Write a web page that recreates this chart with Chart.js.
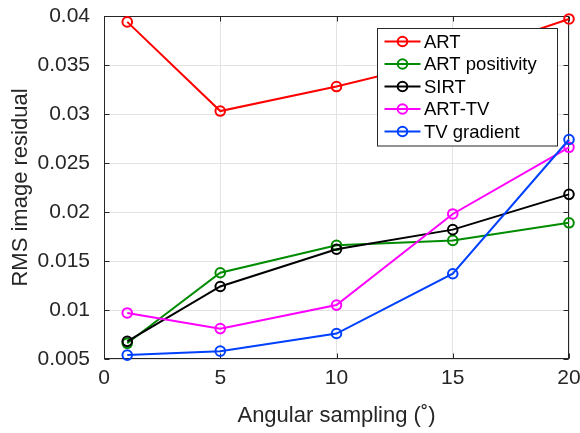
<!DOCTYPE html>
<html>
<head>
<meta charset="utf-8">
<script src="https://cdn.jsdelivr.net/npm/chart.js@4.4.1/dist/chart.umd.min.js"></script>
<style>
  html, body { margin: 0; padding: 0; background: #fff; }
  canvas { display: block; }
</style>
</head>
<body>
<canvas id="c" width="580" height="433"></canvas>
<script>
// Angular sampling step (degrees)
const angles = [1, 5, 10, 15, 20];

// RMS image residual per reconstruction method
const seriesNames = ['ART', 'ART positivity', 'SIRT', 'ART-TV', 'TV gradient'];
const artValues         = [0.0394, 0.0303, 0.0328, 0.0357, 0.0397];
const artPositivity     = [0.0066, 0.0138, 0.0166, 0.0171, 0.0189];
const sirtValues        = [0.0068, 0.0124, 0.0162, 0.0182, 0.0218];
const artTvValues       = [0.0097, 0.0081, 0.0105, 0.0198, 0.0266];
const tvGradientValues  = [0.0054, 0.0058, 0.0076, 0.0137, 0.0274];

// Axis ticks
const xTicks = [0, 5, 10, 15, 20];
const yTicks = [0.005, 0.01, 0.015, 0.02, 0.025, 0.03, 0.035, 0.04];

const seriesColors = ['#ff0000', '#008c00', '#000000', '#ff00ff', '#0040ff'];
const allSeries = [artValues, artPositivity, sirtValues, artTvValues, tvGradientValues];

const AXIS_COLOR = '#262626';
const FONT = '"Liberation Sans", Arial, Helvetica, sans-serif';

const datasets = allSeries.map((vals, i) => ({
  label: seriesNames[i],
  data: angles.map((a, k) => ({ x: a, y: vals[k] })),
  borderColor: seriesColors[i],
  backgroundColor: 'rgba(0,0,0,0)',
  pointBorderColor: seriesColors[i],
  pointBackgroundColor: 'rgba(0,0,0,0)',
  borderWidth: 2,
  pointRadius: 4.8,
  pointBorderWidth: 2,
  tension: 0,
  clip: false,
  order: allSeries.length - i   // later series drawn on top
}));

// Box around the plot with inward tick marks on all four sides
const framePlugin = {
  id: 'frame',
  beforeDatasetsDraw(chart) {
    const { ctx, chartArea: a, scales: { x, y } } = chart;
    const L = Math.round(a.left) + 0.5, R = Math.round(a.right) - 0.5;
    const T = Math.round(a.top) + 0.5, B = Math.round(a.bottom) - 0.5;
    ctx.save();
    ctx.strokeStyle = AXIS_COLOR;
    ctx.lineWidth = 1;
    ctx.strokeRect(L, T, R - L, B - T);
    ctx.beginPath();
    xTicks.forEach(v => {
      const px = Math.round(x.getPixelForValue(v)) + 0.5;
      ctx.moveTo(px, B); ctx.lineTo(px, B - 5);
      ctx.moveTo(px, T); ctx.lineTo(px, T + 5);
    });
    yTicks.forEach(v => {
      const py = Math.round(y.getPixelForValue(v)) + 0.5;
      ctx.moveTo(L, py); ctx.lineTo(L + 5, py);
      ctx.moveTo(R, py); ctx.lineTo(R - 5, py);
    });
    ctx.stroke();
    ctx.restore();
  }
};

// Legend box in the upper right of the plot area
const legendPlugin = {
  id: 'boxLegend',
  afterDraw(chart) {
    const { ctx, chartArea: a } = chart;
    const right = Math.round(a.right) - 11.5;
    const left = right - 180;
    const top = Math.round(a.top) + 12.5;
    const rowH = 22.5;
    const bottom = top + 13 + rowH * (seriesNames.length - 1) + 14.5;
    ctx.save();
    ctx.fillStyle = '#ffffff';
    ctx.fillRect(left, top, right - left, bottom - top);
    ctx.strokeStyle = AXIS_COLOR;
    ctx.lineWidth = 1;
    ctx.strokeRect(left, top, right - left, bottom - top);
    ctx.font = '18.5px ' + FONT;
    ctx.textBaseline = 'middle';
    ctx.textAlign = 'left';
    seriesNames.forEach((name, i) => {
      const cy = top + 13 + i * rowH;
      const x0 = left + 7, x1 = left + 43, xm = (x0 + x1) / 2;
      ctx.strokeStyle = seriesColors[i];
      ctx.lineWidth = 2;
      ctx.beginPath();
      ctx.moveTo(x0, cy); ctx.lineTo(x1, cy);
      ctx.stroke();
      ctx.beginPath();
      ctx.arc(xm, cy, 4.8, 0, Math.PI * 2);
      ctx.stroke();
      ctx.fillStyle = '#000000';
      ctx.fillText(name, left + 46.5, cy + 1);
    });
    ctx.restore();
  }
};

new Chart(document.getElementById('c'), {
  type: 'line',
  data: { datasets },
  plugins: [framePlugin, legendPlugin],
  options: {
    responsive: false,
    devicePixelRatio: 1,
    animation: false,
    layout: { padding: { left: 0, right: 11, top: 16, bottom: 0 } },
    plugins: { legend: { display: false }, tooltip: { enabled: false } },
    scales: {
      x: {
        type: 'linear',
        min: 0, max: 20,
        afterBuildTicks: s => { s.ticks = xTicks.map(v => ({ value: v })); },
        afterFit: s => { s.height = 74; s.paddingLeft = 0; s.paddingRight = 0; },
        grid: { color: '#e3e3e3', lineWidth: 1, drawTicks: false },
        border: { display: false },
        ticks: {
          autoSkip: false, maxRotation: 0, padding: 7,
          color: AXIS_COLOR, font: { family: FONT, size: 21 },
          callback: v => String(v)
        },
        title: {
          display: true, text: 'Angular sampling (˚)', color: AXIS_COLOR,
          font: { family: FONT, size: 22 }, padding: { top: 0, bottom: 4 }
        }
      },
      y: {
        type: 'linear',
        min: 0.005, max: 0.04,
        afterBuildTicks: s => { s.ticks = yTicks.map(v => ({ value: v })); },
        afterFit: s => { s.width = 104; s.paddingTop = 0; s.paddingBottom = 0; },
        grid: { color: '#e3e3e3', lineWidth: 1, drawTicks: false },
        border: { display: false },
        ticks: {
          autoSkip: false, padding: 14,
          color: AXIS_COLOR, font: { family: FONT, size: 21 },
          callback: v => String(parseFloat(Number(v).toFixed(3)))
        },
        title: {
          display: true, text: 'RMS image residual', color: AXIS_COLOR,
          font: { family: FONT, size: 22 }, padding: { top: 8, bottom: 0 }
        }
      }
    }
  }
});
</script>
</body>
</html>
